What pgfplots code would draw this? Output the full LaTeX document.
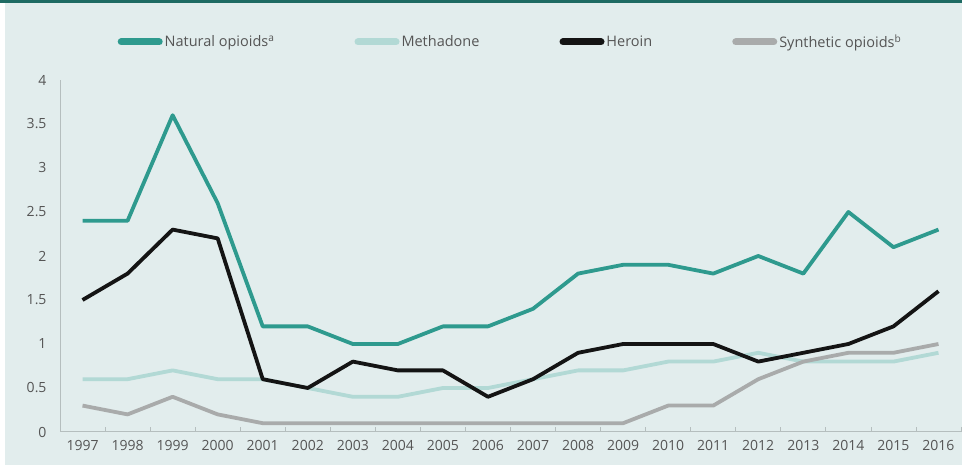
\documentclass[border=0pt]{standalone}
\usepackage{fontspec}
\setmainfont{Open Sans}
\usepackage{pgfplots}
\pgfplotsset{compat=1.18}
\definecolor{bg}{HTML}{E2EDED}
\definecolor{topline}{HTML}{1E6B63}
\definecolor{natural}{HTML}{2E9A8E}
\definecolor{methadone}{HTML}{B2D9D5}
\definecolor{heroin}{HTML}{141414}
\definecolor{synthetic}{HTML}{A9ABAB}
\definecolor{txt}{HTML}{555555}
\definecolor{axisgray}{HTML}{B5BEBE}
\begin{document}
\begin{tikzpicture}[x=1bp,y=1bp]
\fill[white] (0,0) rectangle (962,468);
\fill[bg] (5,3) rectangle (962,465);
\fill[topline] (0,465) rectangle (962,468);
\begin{axis}[
  at={(60bp,36bp)}, anchor=south west,
  scale only axis, width=901bp, height=352bp,
  xmin=1996.5, xmax=2016.5, ymin=0, ymax=4,
  axis x line*=bottom, axis y line*=left,
  axis line style={draw=axisgray, line width=1bp},
  xtick={1997,...,2016},
  minor xtick={1996.5,1997.5,...,2016.5},
  ytick={0,0.5,...,4},
  major tick length=0pt,
  minor tick length=5bp,
  tick align=inside,
  minor tick style={draw=axisgray, line width=0.8bp},
  /pgf/number format/assume math mode=true,
  /pgf/number format/1000 sep={},
  ticklabel style={font=\fontsize{14bp}{16bp}\selectfont, text=txt},
  xticklabel style={yshift=-5bp},
  yticklabel style={xshift=-10bp},
  clip=false,
  legend columns=4,
  legend style={at={(0.5,1)}, anchor=center, yshift=38bp, draw=none, fill=none,
    font=\fontsize{14.5bp}{16bp}\selectfont, text=txt,
    /tikz/every even column/.append style={column sep=78bp},
    inner sep=0pt},
  legend image code/.code={\draw[#1, line width=7bp, line cap=round] (0bp,0bp) -- (38bp,0bp);},
  every axis plot/.append style={line width=3.8bp, line join=round},
]
\addplot[natural] coordinates {
(1997,2.4)(1998,2.4)(1999,3.6)(2000,2.6)(2001,1.2)(2002,1.2)(2003,1.0)(2004,1.0)(2005,1.2)(2006,1.2)
(2007,1.4)(2008,1.8)(2009,1.9)(2010,1.9)(2011,1.8)(2012,2.0)(2013,1.8)(2014,2.5)(2015,2.1)(2016,2.3)};
\addlegendentry{Natural opioids\textsuperscript{a}}
\addplot[methadone] coordinates {
(1997,0.6)(1998,0.6)(1999,0.7)(2000,0.6)(2001,0.6)(2002,0.5)(2003,0.4)(2004,0.4)(2005,0.5)(2006,0.5)
(2007,0.6)(2008,0.7)(2009,0.7)(2010,0.8)(2011,0.8)(2012,0.9)(2013,0.8)(2014,0.8)(2015,0.8)(2016,0.9)};
\addlegendentry{Methadone}
\addplot[synthetic, forget plot] coordinates {
(1997,0.3)(1998,0.2)(1999,0.4)(2000,0.2)(2001,0.1)(2002,0.1)(2003,0.1)(2004,0.1)(2005,0.1)(2006,0.1)
(2007,0.1)(2008,0.1)(2009,0.1)(2010,0.3)(2011,0.3)(2012,0.6)(2013,0.8)(2014,0.9)(2015,0.9)(2016,1.0)};
\addplot[heroin] coordinates {
(1997,1.5)(1998,1.8)(1999,2.3)(2000,2.2)(2001,0.6)(2002,0.5)(2003,0.8)(2004,0.7)(2005,0.7)(2006,0.4)
(2007,0.6)(2008,0.9)(2009,1.0)(2010,1.0)(2011,1.0)(2012,0.8)(2013,0.9)(2014,1.0)(2015,1.2)(2016,1.6)};
\addlegendentry{Heroin}
\addlegendimage{synthetic}
\addlegendentry{Synthetic opioids\textsuperscript{b}}
\end{axis}
\end{tikzpicture}
\end{document}
